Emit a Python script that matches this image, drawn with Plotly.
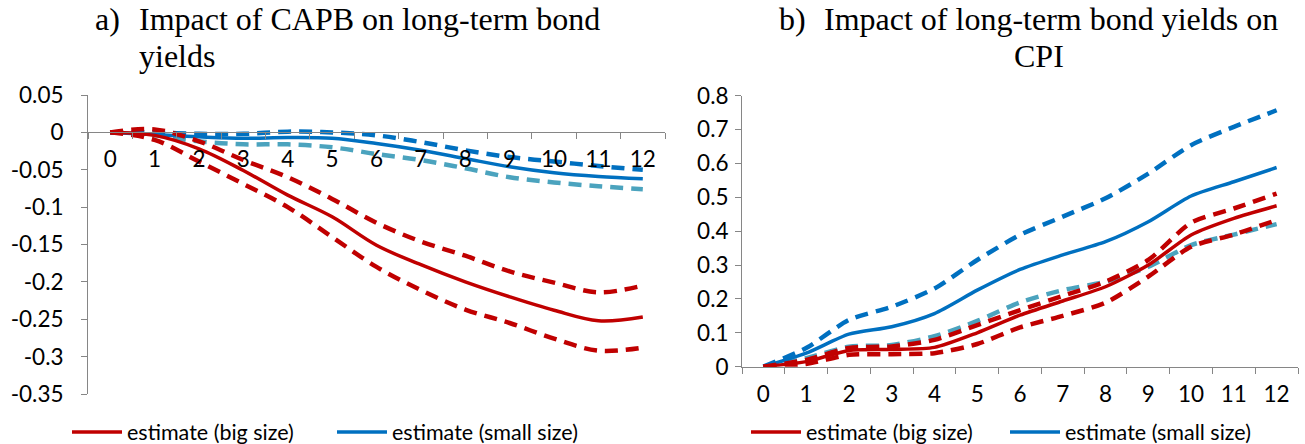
import plotly.graph_objects as go

W, H = 1305, 444

periods = list(range(13))
period_labels = [str(p) for p in periods]

# Panel a) Impact of CAPB on long-term bond yields
a_big_est = [0, -0.004, -0.022, -0.051, -0.084, -0.113, -0.151, -0.177, -0.200, -0.220, -0.238, -0.252, -0.247]
a_big_hi = [0, 0.004, -0.012, -0.037, -0.060, -0.089, -0.121, -0.146, -0.165, -0.186, -0.201, -0.214, -0.205]
a_big_lo = [0, -0.010, -0.039, -0.069, -0.100, -0.140, -0.180, -0.211, -0.237, -0.255, -0.276, -0.292, -0.288]
a_small_est = [0, -0.003, -0.006, -0.008, -0.007, -0.008, -0.015, -0.024, -0.035, -0.046, -0.054, -0.059, -0.062]
a_small_hi = [0, 0.000, -0.002, -0.002, 0.001, 0.000, -0.004, -0.013, -0.024, -0.033, -0.039, -0.045, -0.050]
a_small_lo = [0, -0.004, -0.012, -0.016, -0.016, -0.020, -0.029, -0.037, -0.048, -0.060, -0.067, -0.072, -0.076]

# Panel b) Impact of long-term bond yields on CPI
b_big_est = [0, 0.015, 0.048, 0.051, 0.057, 0.100, 0.152, 0.194, 0.236, 0.300, 0.389, 0.438, 0.475]
b_big_hi = [0, 0.020, 0.055, 0.060, 0.079, 0.123, 0.167, 0.209, 0.251, 0.315, 0.425, 0.467, 0.511]
b_big_lo = [0, 0.008, 0.035, 0.037, 0.040, 0.067, 0.116, 0.150, 0.189, 0.266, 0.354, 0.390, 0.433]
b_small_est = [0, 0.040, 0.096, 0.118, 0.157, 0.226, 0.287, 0.330, 0.369, 0.428, 0.504, 0.546, 0.588]
b_small_hi = [0, 0.055, 0.138, 0.177, 0.231, 0.315, 0.389, 0.443, 0.497, 0.570, 0.654, 0.708, 0.757]
b_small_lo = [0, 0.025, 0.059, 0.064, 0.090, 0.135, 0.190, 0.226, 0.251, 0.295, 0.359, 0.390, 0.421]

a_yticks = [0.05, 0, -0.05, -0.1, -0.15, -0.2, -0.25, -0.3, -0.35]
a_yticktext = ["0.05", "0", "-0.05", "-0.1", "-0.15", "-0.2", "-0.25", "-0.3", "-0.35"]
b_yticks = [0, 0.1, 0.2, 0.3, 0.4, 0.5, 0.6, 0.7, 0.8]
b_yticktext = ["0", "0.1", "0.2", "0.3", "0.4", "0.5", "0.6", "0.7", "0.8"]

legend_names = ["estimate (big size)", "estimate (small size)"]

RED = "#C00000"
BLUE = "#0070C0"
TEAL = "#4BA3BE"
AXIS = "#868686"
DASH = "13px,8px"

fig = go.Figure()


def add_panel(xa, ya, leg, big_est, big_hi, big_lo, sm_est, sm_hi, sm_lo, smooth):
    common = dict(x=periods, xaxis=xa, yaxis=ya, mode="lines", hoverinfo="skip")
    fig.add_trace(go.Scatter(y=sm_lo, line=dict(color=TEAL, width=4.5, dash=DASH, shape="spline", smoothing=smooth),
                             showlegend=False, **common))
    fig.add_trace(go.Scatter(y=sm_hi, line=dict(color=BLUE, width=4.5, dash=DASH, shape="spline", smoothing=smooth),
                             showlegend=False, **common))
    fig.add_trace(go.Scatter(y=sm_est, name=legend_names[1], legend=leg, legendrank=2,
                             line=dict(color=BLUE, width=3.5, shape="spline", smoothing=smooth), **common))
    fig.add_trace(go.Scatter(y=big_lo, line=dict(color=RED, width=4.5, dash=DASH, shape="spline", smoothing=smooth),
                             showlegend=False, **common))
    fig.add_trace(go.Scatter(y=big_hi, line=dict(color=RED, width=4.5, dash=DASH, shape="spline", smoothing=smooth),
                             showlegend=False, **common))
    fig.add_trace(go.Scatter(y=big_est, name=legend_names[0], legend=leg, legendrank=1,
                             line=dict(color=RED, width=3.5, shape="spline", smoothing=smooth), **common))


add_panel("x", "y", "legend", a_big_est, a_big_hi, a_big_lo, a_small_est, a_small_hi, a_small_lo, 1.0)
add_panel("x2", "y2", "legend2", b_big_est, b_big_hi, b_big_lo, b_small_est, b_small_hi, b_small_lo, 0.7)

TICKFONT = dict(family="Lato, Carlito, sans-serif", size=22.5, color="black")
LEGFONT = dict(family="Lato, Carlito, sans-serif", size=21.5, color="black")
TFONT = dict(family="Liberation Serif, Times New Roman, serif", size=32, color="black")

# left panel geometry (pixels)
a_top, a_bot = 95, 394
a_ymin, a_ymax = -0.35, 0.05
a_dom = [1 - a_bot / H, 1 - a_top / H]
a_zero = a_dom[0] + (0 - a_ymin) / (a_ymax - a_ymin) * (a_dom[1] - a_dom[0])

b_top, b_bot = 95.7, 366.7
b_dom = [1 - b_bot / H, 1 - b_top / H]

half_ticks = [p - 0.5 for p in periods] + [periods[-1] + 0.5]

xcommon = dict(range=[-0.5, 12.5], tickmode="array", tickvals=periods, ticktext=period_labels,
               ticks="", showline=True, linecolor=AXIS, linewidth=1, showgrid=False, zeroline=False,
               tickfont=TICKFONT, automargin=False,
               minor=dict(tickmode="array", tickvals=half_ticks, ticks="outside", ticklen=6,
                          tickcolor=AXIS, tickwidth=1, showgrid=False))
ycommon = dict(tickmode="array", ticks="outside", ticklen=6, tickcolor=AXIS, showline=True,
               linecolor=AXIS, linewidth=1, showgrid=False, zeroline=False, tickfont=TICKFONT,
               automargin=False)

fig.update_layout(
    width=W, height=H,
    margin=dict(l=0, r=0, t=0, b=0, autoexpand=False),
    paper_bgcolor="white", plot_bgcolor="white",
    font=LEGFONT,
    xaxis=dict(domain=[88 / W, 665 / W], anchor="free", position=a_zero, ticklabelstandoff=7, **xcommon),
    yaxis=dict(domain=a_dom, range=[a_ymin, a_ymax], tickvals=a_yticks, ticktext=a_yticktext,
               anchor="x", ticklabelstandoff=13, **ycommon),
    xaxis2=dict(domain=[742 / W, 1298 / W], anchor="y2", ticklabelstandoff=7, **xcommon),
    yaxis2=dict(domain=b_dom, range=[0, 0.8], tickvals=b_yticks, ticktext=b_yticktext,
                anchor="x2", ticklabelstandoff=2, **ycommon),
    legend=dict(orientation="h", x=67 / W, xanchor="left", y=1 - 432 / H, yanchor="middle",
                font=LEGFONT, bgcolor="rgba(0,0,0,0)", entrywidth=200, entrywidthmode="pixels",
                traceorder="normal", itemwidth=50),
    legend2=dict(orientation="h", x=746 / W, xanchor="left", y=1 - 432 / H, yanchor="middle",
                 font=LEGFONT, bgcolor="rgba(0,0,0,0)", entrywidth=194, entrywidthmode="pixels",
                 traceorder="normal", itemwidth=50),
    annotations=[
        dict(text="a)", x=93 / W, y=1 - 19 / H, xref="paper", yref="paper", xanchor="left",
             yanchor="middle", showarrow=False, font=TFONT),
        dict(text="Impact of CAPB on long-term bond", x=137 / W, y=1 - 19 / H, xref="paper", yref="paper",
             xanchor="left", yanchor="middle", showarrow=False, font=TFONT),
        dict(text="yields", x=137 / W, y=1 - 56 / H, xref="paper", yref="paper", xanchor="left",
             yanchor="middle", showarrow=False, font=TFONT),
        dict(text="b)", x=777 / W, y=1 - 19 / H, xref="paper", yref="paper", xanchor="left",
             yanchor="middle", showarrow=False, font=TFONT),
        dict(text="Impact of long-term bond yields on", x=822 / W, y=1 - 19 / H, xref="paper", yref="paper",
             xanchor="left", yanchor="middle", showarrow=False, font=TFONT),
        dict(text="CPI", x=1039 / W, y=1 - 56 / H, xref="paper", yref="paper", xanchor="center",
             yanchor="middle", showarrow=False, font=TFONT),
    ],
)

fig.write_html("out.html")
